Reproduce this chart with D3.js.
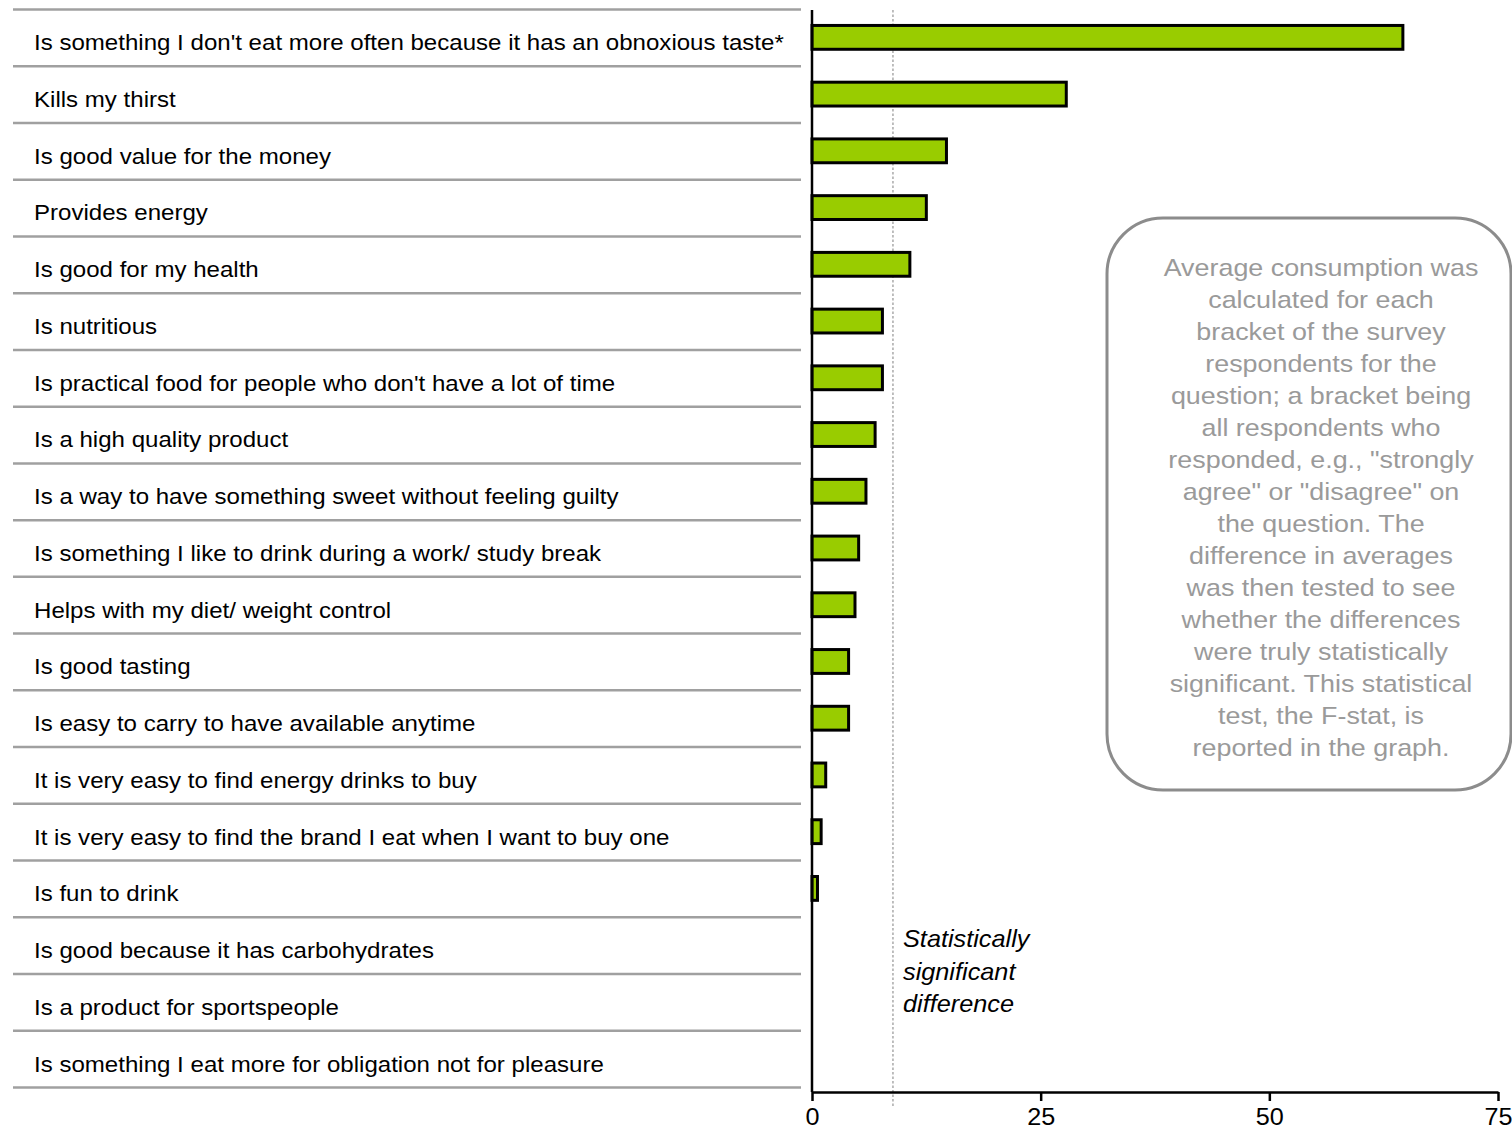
<!DOCTYPE html>
<html>
<head>
<meta charset="utf-8">
<script src="https://cdn.jsdelivr.net/npm/d3@7"></script>
<style>
  html, body { margin: 0; padding: 0; background: #fff; }
  svg { display: block; font-family: "Liberation Sans", Arial, sans-serif; }
</style>
</head>
<body>
<svg id="chart" width="1512" height="1142"></svg>
<script>
const categories = [
  "Is something I don't eat more often because it has an obnoxious taste*",
  "Kills my thirst",
  "Is good value for the money",
  "Provides energy",
  "Is good for my health",
  "Is nutritious",
  "Is practical food for people who don't have a lot of time",
  "Is a high quality product",
  "Is a way to have something sweet without feeling guilty",
  "Is something I like to drink during a work/ study break",
  "Helps with my diet/ weight control",
  "Is good tasting",
  "Is easy to carry to have available anytime",
  "It is very easy to find energy drinks to buy",
  "It is very easy to find the brand I eat when I want to buy one",
  "Is fun to drink",
  "Is good because it has carbohydrates",
  "Is a product for sportspeople",
  "Is something I eat more for obligation not for pleasure"
];
const values = [64.6, 27.8, 14.7, 12.5, 10.7, 7.7, 7.7, 6.9, 5.9, 5.1, 4.7, 4.0, 4.0, 1.5, 1.0, 0.6, 0, 0, 0];
const tickValues = [0, 25, 50, 75];
const threshold = 8.85;
const thresholdLabel = ["Statistically", "significant", "difference"];
const noteLines = [
  "Average consumption was",
  "calculated for each",
  "bracket of the survey",
  "respondents for the",
  "question; a bracket being",
  "all respondents who",
  "responded, e.g., \"strongly",
  "agree\" or \"disagree\" on",
  "the question. The",
  "difference in averages",
  "was then tested to see",
  "whether the differences",
  "were truly statistically",
  "significant. This statistical",
  "test, the F-stat, is",
  "reported in the graph."
];

const svg = d3.select("#chart");
const stretch = 1.12;

const x = d3.scaleLinear().domain([0, 75]).range([812, 1498]);
const y = d3.scaleBand().domain(categories).range([9.5, 1087.5]).paddingInner(0).paddingOuter(0);
const axisY = 1092;

// separators
const sepYs = categories.map(c => y(c)).concat([y.range()[1]]);
svg.append("g").selectAll("line").data(sepYs).join("line")
  .attr("x1", 13).attr("x2", 801)
  .attr("y1", d => d).attr("y2", d => d)
  .attr("stroke", "#a0a0a0").attr("stroke-width", 2.5);

// labels
svg.append("g").selectAll("text").data(categories).join("text")
  .attr("transform", d => `translate(34,${y(d) + y.bandwidth() / 2 + 12.4}) scale(${stretch},1)`)
  .attr("font-size", 21.5)
  .attr("fill", "#000")
  .text(d => d);

// threshold dotted line
svg.append("line")
  .attr("x1", x(threshold)).attr("x2", x(threshold))
  .attr("y1", 10).attr("y2", 1107)
  .attr("stroke", "#aaaaaa").attr("stroke-width", 1.5)
  .attr("stroke-dasharray", "2.5,2");

// bars
const bh = y.bandwidth() * 0.42;
svg.append("g").selectAll("rect").data(categories.map((c, i) => ({c, v: values[i]})).filter(d => d.v > 0))
  .join("rect")
  .attr("x", x(0))
  .attr("y", d => y(d.c) + y.bandwidth() / 2 - bh / 2 - 0.5)
  .attr("width", d => x(d.v) - x(0))
  .attr("height", bh)
  .attr("fill", "#99cc00")
  .attr("stroke", "#000")
  .attr("stroke-width", 3);

// vertical axis line
svg.append("line")
  .attr("x1", x(0)).attr("x2", x(0))
  .attr("y1", 10).attr("y2", axisY)
  .attr("stroke", "#000").attr("stroke-width", 2.5);

// bottom axis
const gx = svg.append("g").attr("transform", `translate(0,${axisY})`)
  .call(d3.axisBottom(x).tickValues(tickValues).tickSize(9).tickSizeOuter(0).tickPadding(0));
gx.select(".domain").attr("stroke", "#000").attr("stroke-width", 2.5);
gx.selectAll(".tick line").attr("stroke", "#000").attr("stroke-width", 2.5);
gx.selectAll(".tick text")
  .attr("font-family", "Liberation Sans, Arial, sans-serif")
  .attr("font-size", 24)
  .attr("fill", "#000")
  .attr("y", 0).attr("dy", 0)
  .attr("transform", `translate(0,33) scale(1.05,1)`);

// threshold label
svg.append("g").selectAll("text").data(thresholdLabel).join("text")
  .attr("transform", (d, i) => `translate(903,${947 + i * 32.5}) scale(1.1,1)`)
  .attr("font-size", 23)
  .attr("font-style", "italic")
  .attr("fill", "#000")
  .text(d => d);

// annotation box
svg.append("rect")
  .attr("x", 1107).attr("y", 218)
  .attr("width", 404).attr("height", 572)
  .attr("rx", 56).attr("ry", 56)
  .attr("fill", "#fff")
  .attr("stroke", "#8c8c8c").attr("stroke-width", 3);

svg.append("g").selectAll("text").data(noteLines).join("text")
  .attr("transform", (d, i) => `translate(1321,${276 + i * 32}) scale(${stretch},1)`)
  .attr("text-anchor", "middle")
  .attr("font-size", 24)
  .attr("fill", "#9a9a9a")
  .text(d => d);
</script>
</body>
</html>
